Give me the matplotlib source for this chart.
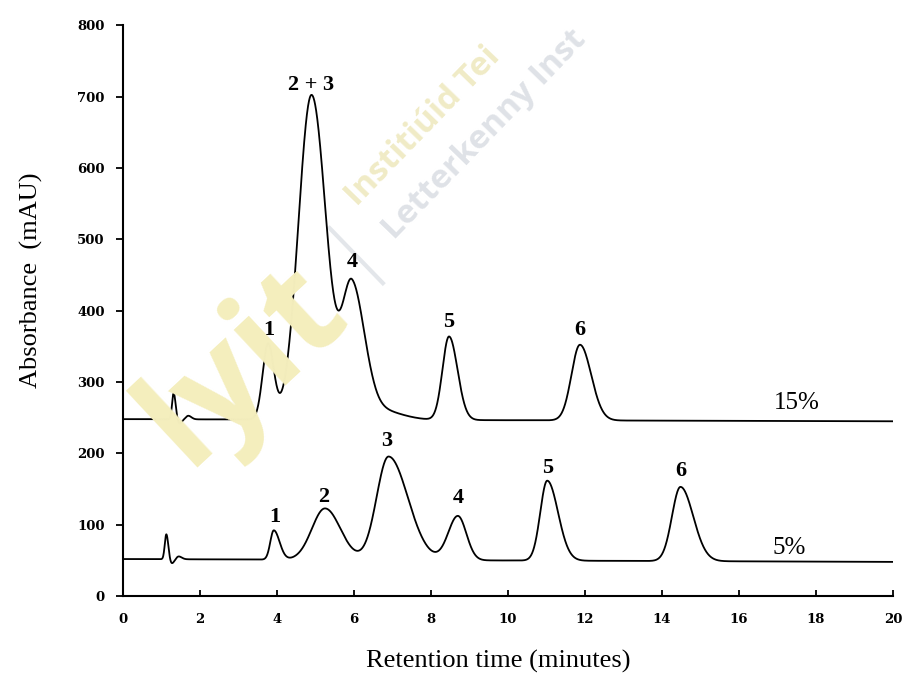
import numpy as np
import matplotlib
matplotlib.use("Agg")
import matplotlib.pyplot as plt

# peak table: retention time (min), height above baseline (mAU),
# left / right half-widths (sigma, min) of each asymmetric peak
p15_time = [1.32, 1.47, 1.70, 3.77, 4.90, 5.95, 6.55, 8.47, 11.87]
p15_height = [37, -6, 5, 105, 455, 185, 15, 117, 106]
p15_sig_l = [0.04, 0.05, 0.06, 0.14, 0.34, 0.25, 0.30, 0.17, 0.22]
p15_sig_r = [0.05, 0.06, 0.08, 0.15, 0.38, 0.32, 0.60, 0.22, 0.29]
base15 = [248, 245]  # baseline at 0 and 20 min

p5_time = [1.13, 1.27, 1.45, 3.92, 5.25, 6.90, 8.70, 11.02, 14.48]
p5_height = [35, -6, 4, 41, 72, 145, 62, 112, 104]
p5_sig_l = [0.04, 0.05, 0.06, 0.09, 0.34, 0.31, 0.25, 0.18, 0.22]
p5_sig_r = [0.05, 0.06, 0.08, 0.15, 0.40, 0.50, 0.22, 0.28, 0.33]
base5 = [52, 48]

# peak labels (text, time, y)
lab15 = [("1", 3.80, 373), ("2 + 3", 4.90, 716), ("4", 5.95, 468),
         ("5", 8.47, 384), ("6", 11.87, 373)]
lab5 = [("1", 3.95, 111), ("2", 5.22, 139), ("3", 6.86, 218),
        ("4", 8.70, 137), ("5", 11.04, 179), ("6", 14.49, 176)]


def trace(t, times, heights, sl, sr, base):
    y = np.interp(t, [0, 20], base)
    for t0, h, a, b in zip(times, heights, sl, sr):
        s = np.where(t < t0, a, b)
        y = y + h * np.exp(-(t - t0) ** 2 / (2 * s ** 2))
    return y


t = np.linspace(0, 20, 4001)
y15 = trace(t, p15_time, p15_height, p15_sig_l, p15_sig_r, base15)
y5 = trace(t, p5_time, p5_height, p5_sig_l, p5_sig_r, base5)

serif = "Liberation Serif"
fig = plt.figure(figsize=(9.03, 6.79), dpi=100)
ax = fig.add_axes([0.136, 0.122, 0.853, 0.841])

# watermark of the scanned source
fig.text(0.27, 0.462, "lyit", fontsize=100, fontweight="bold", family="Open Sans",
         color="#f4eebd", rotation=43, ha="center", va="center", zorder=0)
fig.text(0.395, 0.695, "Institiúid Tei", fontsize=24,
         fontweight="bold", family="Open Sans", color="#f0ebc6", rotation=46,
         rotation_mode="anchor", ha="left", va="baseline", zorder=0)
fig.text(0.437, 0.646, "Letterkenny Inst", fontsize=24,
         fontweight="bold", family="Open Sans", color="#dfe2e7", rotation=46,
         rotation_mode="anchor", ha="left", va="baseline", zorder=0)
fig.add_artist(plt.Line2D([0.365, 0.424], [0.664, 0.583], color="#e3e6ea", lw=3, zorder=0))

ax.patch.set_alpha(0)
ax.plot(t, y15, color="black", lw=1.3)
ax.plot(t, y5, color="black", lw=1.3)

for s, x, y in lab15 + lab5:
    ax.text(x, y, s, family=serif, fontsize=16, fontweight="bold", ha="center", va="center")
ax.text(17.5, 270, "15%", family=serif, fontsize=18, ha="center", va="center")
ax.text(17.3, 67, "5%", family=serif, fontsize=18, ha="center", va="center")

ax.set_xlim(0, 20)
ax.set_ylim(0, 800)
ax.set_xticks(range(0, 21, 2))
ax.set_yticks(range(0, 801, 100))
for s in ["top", "right"]:
    ax.spines[s].set_visible(False)
for s in ["left", "bottom"]:
    ax.spines[s].set_linewidth(1.5)
ax.tick_params(axis="y", direction="out", length=5, width=1.3, pad=8)
ax.tick_params(axis="x", direction="in", length=4, width=1.3, pad=12)
for lbl in ax.get_xticklabels() + ax.get_yticklabels():
    lbl.set_family("DejaVu Serif")
    lbl.set_fontweight("bold")
    lbl.set_fontsize(9.5)

ax.set_xlabel("Retention time (minutes)", family=serif, fontsize=19)
ax.set_ylabel("Absorbance  (mAU)", family=serif, fontsize=19)
ax.xaxis.set_label_coords(0.487, -0.094)
ax.yaxis.set_label_coords(-0.104, 0.553)

plt.savefig("out.png", dpi=100)
